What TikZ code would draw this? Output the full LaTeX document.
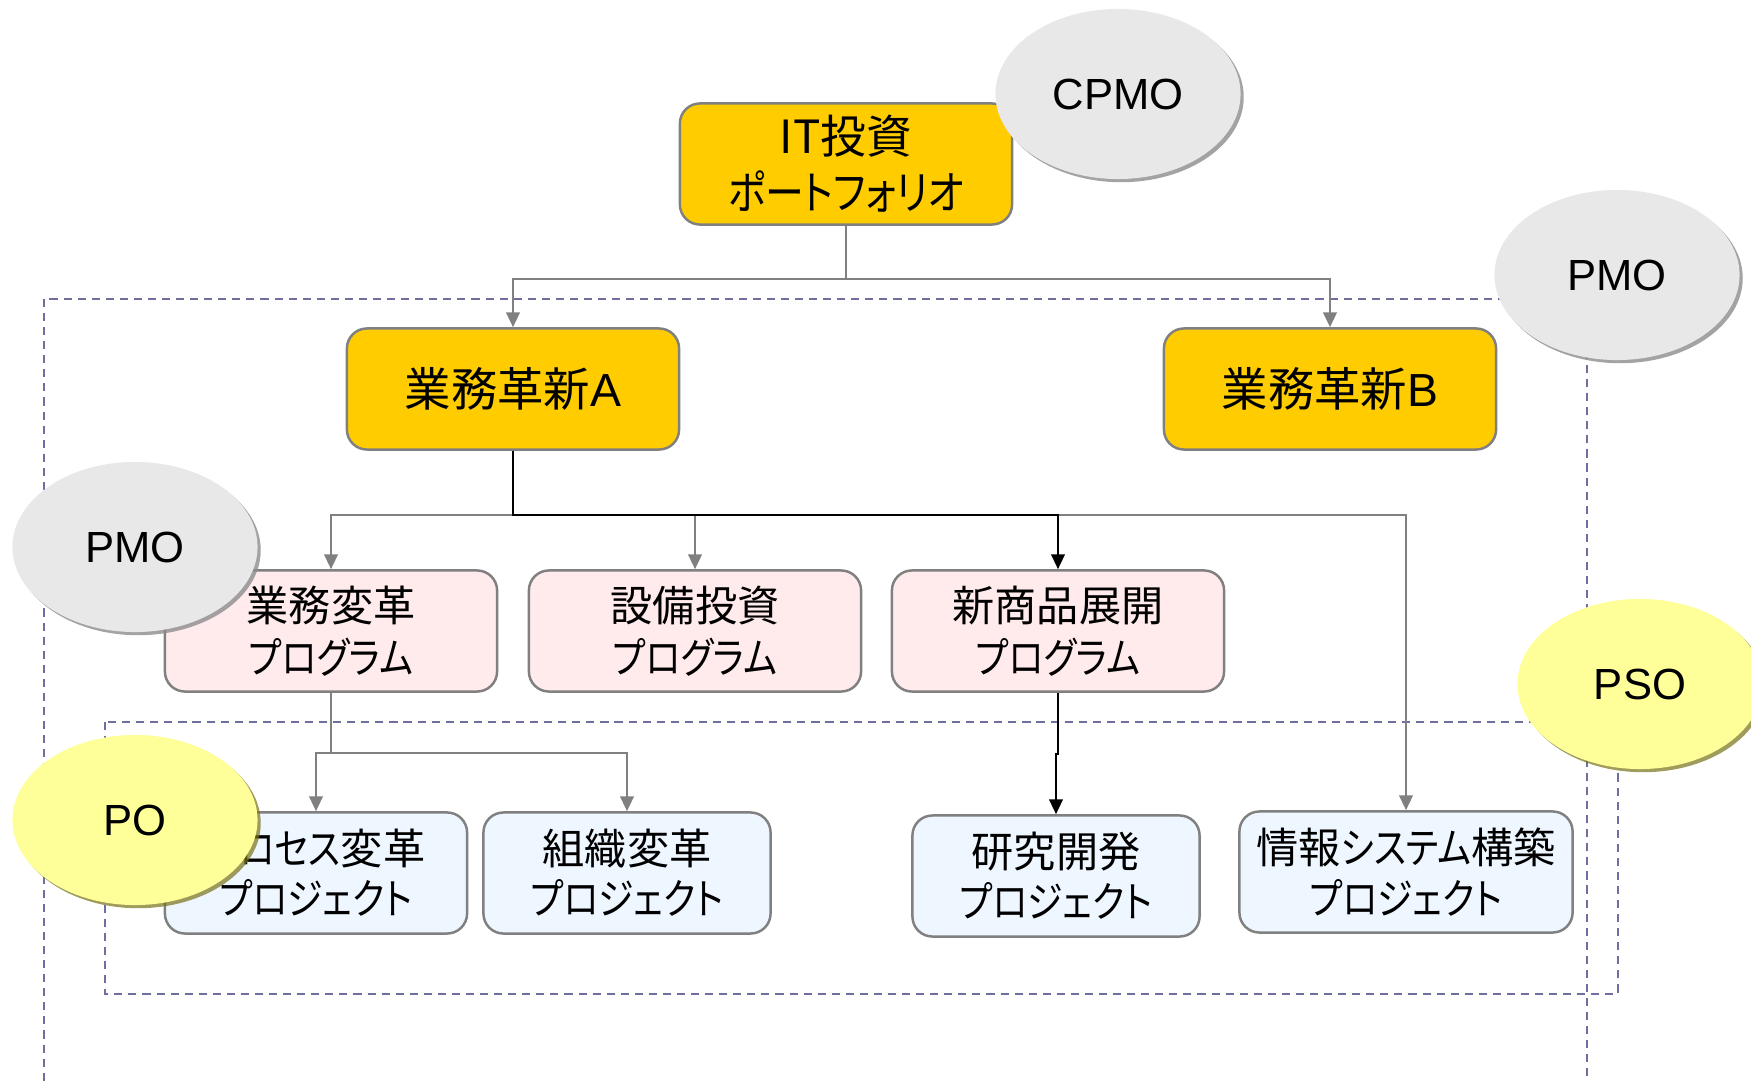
\documentclass[tikz,border=0pt]{standalone}
\usepackage{fontspec}
\setmainfont{Liberation Sans}
\newfontfamily\jpfont[RawFeature=+palt]{Noto Sans CJK JP}
\newfontfamily\jpkana[RawFeature=+palt, FakeStretch=0.85]{Noto Sans CJK JP}
\usepackage{xcolor}
\usepackage{tikz}
\usetikzlibrary{arrows.meta,calc,positioning,shapes.geometric,shadows}
\definecolor{invGold}{RGB}{255,204,0}
\definecolor{progPink}{RGB}{255,234,236}
\definecolor{projBlue}{RGB}{238,246,255}
\definecolor{officeGray}{RGB}{232,232,232}
\definecolor{officeYellow}{RGB}{255,255,153}
\definecolor{zoneLine}{RGB}{110,110,160}
\definecolor{linkGray}{RGB}{128,128,128}
\tikzset{
  box/.style={draw=linkGray, line width=0.7pt, rounded corners=0.2cm, align=center, inner sep=0pt},
  invBox/.style={box, fill=invGold, minimum width=3.32cm, minimum height=1.21cm},   % portfolio / reform
  progBox/.style={box, fill=progPink, minimum width=3.32cm, minimum height=1.21cm,
    font=\jpfont\fontsize{12}{14.8}\selectfont},                                    % programs
  projBox/.style={box, fill=projBlue, minimum height=1.21cm,
    font=\jpfont\fontsize{12}{14.3}\selectfont},                                    % projects
  office/.style={ellipse, minimum width=2.45cm, minimum height=1.70cm, inner sep=0pt,
    font=\fontsize{12.4}{14}\selectfont},
  officeG/.style={office, fill=officeGray,
    drop shadow={shadow xshift=0.9pt, shadow yshift=-0.9pt, fill=black!45, opacity=0.8}},
  officeY/.style={office, fill=officeYellow,
    drop shadow={shadow xshift=0.9pt, shadow yshift=-0.9pt, fill=olive!80!black, opacity=0.7}},
  zone/.style={draw=zoneLine, line width=0.55pt, dash pattern=on 2.3pt off 1.7pt},
  link/.style={draw=linkGray, line width=0.7pt, -{Triangle[length=4.2pt,width=3.8pt]}},
  linkBold/.style={draw=black, line width=0.7pt, -{Triangle[length=4.2pt,width=3.8pt]}}
}
\newcommand{\prog}{{\jpkana プログラム}}
\newcommand{\proj}{{\jpkana プロジェクト}}

\begin{document}
\begin{tikzpicture}[x=0.01cm, y=-0.01cm]
  \path[use as bounding box, fill=white] (0,0) rectangle (1751,1082);
  % PMO and PO zones
  \draw[zone] (44,299) rectangle (1587,1140);
  \draw[zone] (105,722) rectangle (1618,994);
  % portfolio and reforms
  \node[invBox, font=\jpfont\fontsize{13}{16}\selectfont] (IT) at (846,164) {IT投資\\{\jpkana ポートフォリオ}};
  \node[invBox, font=\fontsize{13.2}{16}\selectfont] (RA) at (513,389) {{\jpfont 業務革新}A};
  \node[invBox, font=\fontsize{13.2}{16}\selectfont] (RB) at (1330,389) {{\jpfont 業務革新}B};
  % programs
  \node[progBox] (P1) at (331,631) {業務変革\\\prog};
  \node[progBox] (P2) at (695,631) {設備投資\\\prog};
  \node[progBox] (P3) at (1058,631) {新商品展開\\\prog};
  % projects
  \node[projBox, minimum width=3.02cm] (J1) at (316,873) {{\jpkana プロセス}変革\\\proj};
  \node[projBox, minimum width=2.87cm] (J2) at (627,873) {組織変革\\\proj};
  \node[projBox, minimum width=2.87cm] (J3) at (1056,876) {研究開発\\\proj};
  \node[projBox, minimum width=3.33cm] (J4) at (1406,872) {情報{\jpkana システム}構築\\\proj};
  % portfolio to reforms
  \coordinate (busT) at ($(IT.south)+(0,53)$);
  \draw[link] (IT.south) -- (busT) -| (RA.north);
  \draw[link] (busT) -| (RB.north);
  % reform A to programs
  \coordinate (busA) at ($(RA.south)+(0,64)$);
  \draw[link] (busA) -| (P1.north);
  \draw[link] (busA) -| (P2.north);
  \draw[link] (busA) -| (J4.north);
  \draw[linkBold] (RA.south) -- (busA) -| (P3.north);
  % programs to projects
  \coordinate (busP) at ($(P1.south)+(0,60)$);
  \draw[link] (P1.south) -- (busP) -| (J1.north);
  \draw[link] (busP) -| (J2.north);
  \draw[linkBold] (P3.south) -- ++(0,61) -| (J3.north);
  % offices
  \node[officeG] (cpmo) at (1118,94) {CPMO};
  \node[officeG] (pmoT) at (1617,275) {PMO};
  \node[officeG] (pmoL) at (135,547) {PMO};
  \node[officeY] (po) at (135,820) {PO};
  \node[officeY] (pso) at (1640,684) {PSO};
\end{tikzpicture}
\end{document}
